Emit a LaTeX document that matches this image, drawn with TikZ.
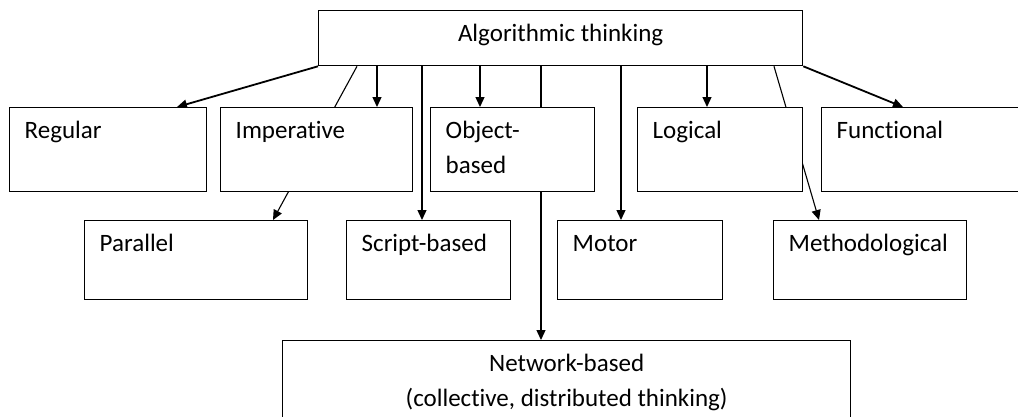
\documentclass[tikz,border=0pt]{standalone}
\usepackage{fontspec}
\setmainfont{Carlito}[Ligatures=NoCommon]
\usetikzlibrary{arrows.meta,backgrounds}
\begin{document}
\begin{tikzpicture}[x=1pt,y=-1pt,
  box/.style={draw, fill=white, line width=1.3pt, anchor=north west, inner sep=0pt},
  txt/.style={anchor=base west, xshift=15.5pt, yshift=-31.5pt, align=left, inner sep=0pt,
              font=\fontsize{25}{35}\selectfont},
  txttwo/.style={anchor=base west, xshift=15.5pt, yshift=-66.5pt, align=left, inner sep=0pt,
              font=\fontsize{25}{35}\selectfont},
  ctxt/.style={anchor=base, yshift=-31.5pt, align=center, inner sep=0pt,
              font=\fontsize{25}{35}\selectfont},
  ctxttwo/.style={anchor=base, yshift=-66.5pt, align=center, inner sep=0pt,
              font=\fontsize{25}{35}\selectfont},
  arr/.style={line width=1.3pt, -{Triangle[length=10pt,width=9pt]}},
  barr/.style={line width=1.8pt, -{Triangle[length=10pt,width=9pt]}},
  plain/.style={line width=1.1pt, -{Triangle[length=10pt,width=9pt]}}]
\useasboundingbox (0,0) rectangle (1018,416);
\clip (0,0) rectangle (1018,416);
% boxes
\node[box, minimum width=484pt, minimum height=55pt, label={[ctxt]north:Algorithmic thinking}] (top) at (318,10) {};
\node[box, minimum width=197pt, minimum height=84pt, label={[txt]north west:Regular}] (reg) at (9,107) {};
\node[box, minimum width=192pt, minimum height=84pt, label={[txt]north west:Imperative}] (imp) at (220,107) {};
\node[box, minimum width=164pt, minimum height=84pt, label={[txttwo]north west:{Object-\\based}}] (obj) at (430,107) {};
\node[box, minimum width=165pt, minimum height=84pt, label={[txt]north west:Logical}] (log) at (637,107) {};
\node[box, minimum width=210pt, minimum height=84pt, label={[txt]north west:Functional}] (fun) at (821,107) {};
\node[box, minimum width=223pt, minimum height=79pt, label={[txt]north west:Parallel}] (par) at (84,220) {};
\node[box, minimum width=164pt, minimum height=79pt, label={[txt]north west:Script-based}] (scr) at (346,220) {};
\node[box, minimum width=165pt, minimum height=79pt, label={[txt]north west:Motor}] (mot) at (557,220) {};
\node[box, minimum width=193pt, minimum height=79pt, label={[txt]north west:Methodological}] (met) at (773,220) {};
\node[box, minimum width=568pt, minimum height=100pt, label={[ctxttwo]north:{Network-based\\(collective, distributed thinking)}}] (net) at (282,340) {};
% connectors
\begin{scope}[on background layer]
\draw[barr] (top.south west) -- ([xshift=168pt]reg.north west);
\draw[plain] ([xshift=39pt]top.south west) -- ([xshift=189pt]par.north west);
\draw[arr] ([xshift=59pt]top.south west) -- ([xshift=157pt]imp.north west);
\draw[arr] ([xshift=104pt]top.south west) -- ([xshift=76pt]scr.north west);
\draw[arr] ([xshift=162pt]top.south west) -- ([xshift=50pt]obj.north west);
\draw[arr] ([xshift=223pt]top.south west) -- ([xshift=259pt]net.north west);
\draw[arr] ([xshift=303pt]top.south west) -- ([xshift=64pt]mot.north west);
\draw[arr] ([xshift=389pt]top.south west) -- ([xshift=70pt]log.north west);
\draw[plain] ([xshift=456pt]top.south west) -- ([xshift=46pt]met.north west);
\draw[barr] (top.south east) -- ([xshift=82pt]fun.north west);
\end{scope}
\end{tikzpicture}
\end{document}
